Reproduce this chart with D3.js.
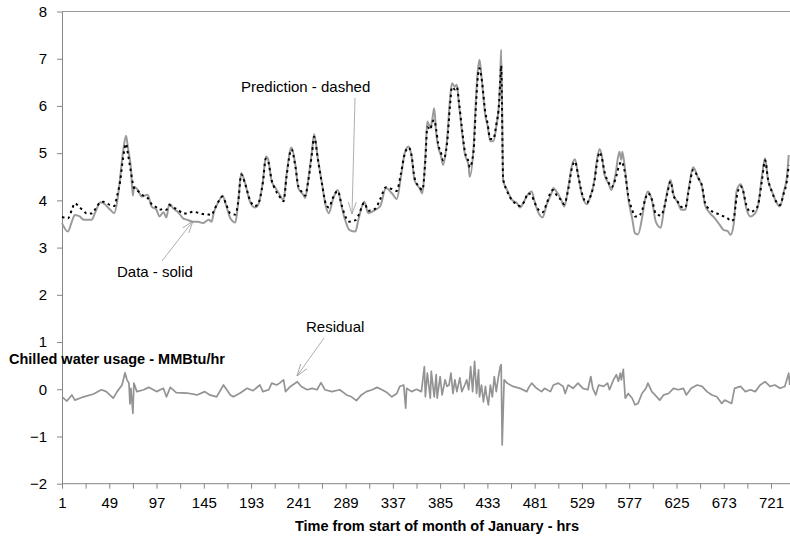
<!DOCTYPE html>
<html>
<head>
<meta charset="utf-8">
<script src="https://cdn.jsdelivr.net/npm/d3@7"></script>
<style>
  body { margin: 0; background: #fff; }
  svg { display: block; font-family: Arial, "Liberation Sans", sans-serif; }
  .axis path, .axis line { stroke: #868686; }
  .axis text { fill: #000; font-size: 15px; font-family: Arial, "Liberation Sans", sans-serif; }
</style>
</head>
<body>
<svg id="chart" width="790" height="537"></svg>
<script>
const hours = [
    1, 7, 11, 14, 19, 23, 26, 31, 35, 40,
    43, 50, 54, 57, 60, 63, 66, 68, 71, 73,
    74, 78, 82, 88, 92, 97, 100, 104, 107, 110,
    114, 119, 124, 128, 134, 139, 144, 150, 153, 155,
    160, 164, 168, 172, 177, 180, 183, 187, 192, 197,
    200, 205, 208, 210, 214, 217, 222, 226, 229, 234,
    238, 241, 246, 248, 251, 255, 257, 261, 265, 269,
    272, 276, 281, 285, 288, 293, 299, 302, 308, 312,
    319, 324, 330, 336, 341, 345, 349, 353, 356, 359,
    364, 367, 370, 372, 375, 377, 379, 381, 383, 386,
    388, 392, 395, 397, 400, 402, 404, 407, 410, 414,
    415, 419, 421, 423, 425, 427, 431, 433, 436, 439,
    442, 445, 446, 447, 449, 453, 458, 463, 466, 471,
    474, 478, 481, 485, 489, 493, 498, 500, 503, 508,
    511, 515, 519, 522, 525, 529, 534, 537, 542, 544,
    547, 549, 552, 556, 559, 563, 567, 569, 570, 573,
    576, 580, 583, 586, 590, 593, 596, 600, 604, 609,
    612, 616, 619, 622, 626, 630, 634, 637, 642, 647,
    651, 654, 659, 664, 669, 673, 677, 680, 683, 686,
    690, 692, 696, 700, 705, 708, 712, 715, 718, 722,
    727, 730, 734, 737, 739
]

// measured chilled water usage (solid)
const dataValues = [
    3.52, 3.34, 3.55, 3.69, 3.66, 3.59, 3.59, 3.59, 3.76, 3.96,
    3.94, 3.80, 3.73, 3.97, 4.47, 5.03, 5.37, 5.11, 4.68, 4.10,
    4.29, 4.22, 4.08, 4.12, 3.87, 3.80, 3.66, 3.75, 3.64, 3.93,
    3.83, 3.75, 3.62, 3.59, 3.55, 3.55, 3.52, 3.59, 3.55, 3.73,
    3.97, 4.10, 3.87, 3.62, 3.53, 3.97, 4.58, 4.36, 3.97, 3.85,
    3.90, 4.40, 4.93, 4.89, 4.40, 4.29, 4.12, 4.01, 4.54, 5.12,
    4.75, 4.26, 4.12, 4.05, 4.43, 5.07, 5.40, 4.86, 4.36, 3.87,
    3.73, 4.01, 4.22, 3.87, 3.62, 3.37, 3.34, 3.59, 3.97, 3.73,
    3.80, 3.87, 4.26, 4.15, 4.03, 4.47, 5.00, 5.14, 4.93, 4.43,
    4.26, 4.15, 4.93, 5.67, 5.53, 5.71, 5.95, 5.42, 5.14, 4.93,
    4.75, 5.28, 6.13, 6.48, 6.41, 6.45, 6.06, 5.49, 5.00, 4.72,
    4.50, 5.14, 5.99, 6.69, 6.98, 6.62, 5.78, 5.60, 5.25, 5.25,
    5.56, 6.13, 6.59, 7.19, 4.43, 4.22, 4.01, 3.94, 3.85, 4.01,
    4.12, 4.19, 3.97, 3.73, 3.64, 3.90, 4.15, 4.26, 4.19, 4.01,
    3.87, 4.26, 4.75, 4.87, 4.54, 4.12, 3.92, 4.05, 4.47, 4.82,
    5.09, 4.96, 4.54, 4.36, 4.22, 4.54, 5.03, 4.86, 5.03, 4.61,
    4.05, 3.62, 3.30, 3.28, 3.62, 4.01, 4.19, 4.01, 3.55, 3.42,
    3.76, 4.22, 4.43, 4.12, 3.97, 3.80, 3.80, 4.19, 4.70, 4.47,
    4.29, 3.90, 3.73, 3.62, 3.48, 3.37, 3.35, 3.27, 3.48, 4.19,
    4.34, 4.26, 3.83, 3.66, 3.73, 3.90, 4.54, 4.89, 4.43, 4.19,
    3.94, 3.87, 4.19, 4.47, 4.96
]

// model prediction (dashed)
const predValues = [
    3.65, 3.62, 3.80, 3.94, 3.85, 3.78, 3.72, 3.72, 3.82, 3.96,
    3.97, 3.90, 3.88, 4.10, 4.40, 4.90, 5.20, 4.98, 4.60, 4.35,
    4.27, 4.20, 4.12, 4.05, 3.92, 3.85, 3.80, 3.82, 3.80, 3.90,
    3.85, 3.80, 3.72, 3.72, 3.76, 3.74, 3.71, 3.70, 3.69, 3.77,
    3.98, 4.08, 3.90, 3.72, 3.70, 3.98, 4.55, 4.35, 4.00, 3.88,
    3.92, 4.38, 4.88, 4.85, 4.42, 4.25, 4.08, 3.98, 4.50, 5.08,
    4.72, 4.30, 4.15, 4.10, 4.40, 5.02, 5.35, 4.85, 4.35, 3.92,
    3.85, 4.05, 4.20, 3.90, 3.70, 3.55, 3.58, 3.68, 3.95, 3.78,
    3.82, 4.02, 4.28, 4.24, 4.20, 4.55, 4.98, 5.12, 4.95, 4.48,
    4.28, 4.22, 4.85, 5.55, 5.50, 5.65, 5.70, 5.50, 5.20, 5.00,
    4.85, 5.20, 6.00, 6.40, 6.35, 6.40, 6.10, 5.55, 5.05, 4.80,
    4.70, 5.05, 5.85, 6.55, 6.80, 6.60, 5.85, 5.65, 5.30, 5.30,
    5.60, 6.10, 6.50, 6.85, 4.45, 4.20, 4.00, 3.92, 3.88, 4.00,
    4.15, 4.10, 3.95, 3.80, 3.75, 3.92, 4.20, 4.22, 4.12, 4.00,
    3.92, 4.22, 4.70, 4.82, 4.55, 4.15, 3.95, 4.05, 4.45, 4.75,
    5.02, 4.92, 4.60, 4.38, 4.28, 4.45, 4.75, 4.82, 4.80, 4.55,
    4.10, 3.80, 3.66, 3.66, 3.78, 4.00, 4.15, 4.02, 3.72, 3.68,
    3.80, 4.18, 4.40, 4.10, 3.98, 3.86, 3.85, 4.15, 4.65, 4.48,
    4.30, 3.95, 3.80, 3.74, 3.70, 3.66, 3.62, 3.56, 3.60, 4.05,
    4.30, 4.25, 3.90, 3.76, 3.80, 3.92, 4.45, 4.85, 4.45, 4.18,
    3.95, 3.90, 4.15, 4.40, 4.75
]

// residual, [hour, value]
const residual = [
    [1, -0.16], [6, -0.25], [11, -0.12], [14, -0.23], [23, -0.16], [33, -0.10], [41, -0.01], [46, -0.05],
    [53, -0.19], [57, -0.05], [62, 0.09], [65, 0.35], [67, 0.20], [69, 0.13], [70, -0.31], [71, 0.02],
    [73, -0.51], [74, 0.13], [77, -0.05], [84, -0.01], [89, 0.04], [97, -0.05], [104, 0.02], [107, -0.16],
    [111, 0.04], [117, -0.07], [128, -0.08], [138, -0.12], [146, -0.05], [151, -0.12], [158, -0.16], [165, 0.09],
    [172, -0.12], [175, -0.16], [182, -0.08], [189, 0.02], [195, -0.03], [202, 0.09], [205, -0.05], [211, -0.01],
    [214, 0.13], [219, 0.09], [222, 0.13], [226, 0.20], [228, -0.05], [233, 0.06], [240, 0.16], [244, 0.06],
    [250, -0.01], [255, 0.02], [260, -0.01], [264, 0.14], [268, -0.01], [275, -0.05], [283, -0.01], [290, -0.12],
    [295, -0.16], [300, -0.24], [305, -0.12], [310, -0.05], [316, -0.01], [321, 0.04], [326, -0.01], [331, -0.07],
    [336, -0.16], [341, -0.09], [344, 0.06], [348, 0.09], [350, -0.40], [351, 0.02], [356, -0.05], [361, 0.00],
    [366, -0.05], [369, 0.48], [370, -0.16], [372, 0.34], [375, -0.19], [376, 0.38], [379, -0.16], [381, 0.31],
    [382, -0.19], [385, 0.27], [387, -0.12], [390, 0.20], [392, 0.06], [394, 0.09], [396, 0.34], [398, -0.09],
    [400, 0.20], [402, -0.05], [405, 0.24], [407, -0.05], [410, 0.09], [412, 0.20], [414, -0.01], [416, 0.48],
    [418, -0.05], [420, 0.59], [422, -0.09], [424, 0.41], [425, -0.16], [427, 0.09], [429, -0.27], [431, 0.06],
    [432, -0.12], [434, -0.33], [436, 0.09], [438, -0.16], [440, 0.27], [442, -0.05], [444, 0.24], [446, 0.48],
    [447, 0.52], [448, -1.18], [450, 0.20], [453, 0.13], [459, 0.06], [466, 0.02], [473, -0.05], [475, 0.04],
    [478, 0.13], [483, 0.02], [488, -0.05], [491, 0.02], [497, -0.05], [500, 0.09], [505, 0.13], [510, 0.06],
    [512, -0.09], [515, 0.09], [520, 0.02], [525, 0.13], [530, 0.02], [535, -0.01], [538, 0.27], [540, 0.02],
    [543, -0.12], [546, 0.09], [551, 0.06], [555, 0.13], [557, -0.01], [561, 0.20], [564, 0.31], [566, 0.17],
    [568, 0.34], [569, 0.20], [571, 0.42], [573, -0.19], [576, -0.09], [580, -0.19], [583, -0.33], [586, -0.30],
    [590, -0.09], [594, 0.02], [596, 0.13], [600, -0.05], [605, -0.16], [608, -0.23], [612, -0.12], [617, -0.09],
    [622, 0.02], [627, -0.01], [632, 0.02], [635, -0.12], [640, 0.02], [646, 0.09], [651, 0.06], [656, -0.05],
    [661, -0.12], [666, -0.16], [671, -0.30], [674, -0.23], [678, -0.27], [681, -0.30], [684, 0.02], [690, 0.06],
    [695, -0.05], [700, -0.01], [705, -0.05], [710, 0.09], [715, 0.16], [720, 0.06], [725, 0.09], [730, 0.02],
    [735, 0.06], [739, 0.34], [740, 0.09]
]

const yTicks = [-2, -1, 0, 1, 2, 3, 4, 5, 6, 7, 8]
const xTickLabels = [1, 49, 97, 145, 193, 241, 289, 337, 385, 433, 481, 529, 577, 625, 673, 721]
const xMinorTicks = d3.range(1, 746, 24)

const svg = d3.select("#chart")

let x = d3.scaleLinear().domain([1, 721]).range([62, 771])
let y = d3.scaleLinear().domain([-2, 8]).range([483.7, 11.5])

// plot frame (top edge; right edge runs off the picture)
svg.append("line")
    .attr("x1", 62).attr("x2", 790)
    .attr("y1", y(8)).attr("y2", y(8))
    .attr("stroke", "#9a9a9a")
    .attr("stroke-width", 1)

let yAxis = svg.append("g")
    .attr("class", "axis")
    .attr("transform", "translate(62,0)")
    .call(d3.axisLeft(y).tickValues(yTicks).tickSize(5).tickSizeOuter(0).tickPadding(10))

let xAxis = svg.append("g")
    .attr("class", "axis")
    .attr("transform", "translate(0," + y(-2) + ")")
    .call(
        d3.axisBottom(x)
            .tickValues(xMinorTicks)
            .tickSize(5)
            .tickSizeOuter(0)
            .tickPadding(9)
            .tickFormat((d) => (xTickLabels.includes(d) ? d : ""))
    )
xAxis.select(".domain").attr("d", "M62,0H790")

let line = d3.line()
    .x((d) => x(d[0]))
    .y((d) => y(d[1]))

let smoothLine = d3.line()
    .curve(d3.curveMonotoneX)
    .x((d) => x(d[0]))
    .y((d) => y(d[1]))

let dataPts = d3.zip(hours, dataValues)
let predPts = d3.zip(hours, predValues)

svg.append("path")
    .datum(residual)
    .attr("d", line)
    .attr("fill", "none")
    .attr("stroke", "#939393")
    .attr("stroke-width", 1.7)
    .attr("stroke-linejoin", "round")

svg.append("path")
    .datum(dataPts)
    .attr("d", smoothLine)
    .attr("fill", "none")
    .attr("stroke", "#9b9b9b")
    .attr("stroke-width", 2)
    .attr("stroke-linejoin", "round")

svg.append("path")
    .datum(predPts)
    .attr("d", smoothLine)
    .attr("fill", "none")
    .attr("stroke", "#000")
    .attr("stroke-width", 2)
    .attr("stroke-dasharray", "2.5,3.5")

// annotations with thin arrows
let defs = svg.append("defs")
defs.append("marker")
    .attr("id", "arrow")
    .attr("viewBox", "0 0 12 10")
    .attr("refX", 12).attr("refY", 5)
    .attr("markerWidth", 12).attr("markerHeight", 10)
    .attr("markerUnits", "userSpaceOnUse")
    .attr("orient", "auto")
    .append("path")
    .attr("d", "M0,1 L12,5 L0,9")
    .attr("fill", "none")
    .attr("stroke", "#9a9a9a")
    .attr("stroke-width", 0.8)

let notes = [
    { text: "Prediction - dashed", tx: 241, ty: 92, x1: 355, y1: 98, x2: 352, y2: 214 },
    { text: "Data - solid", tx: 117, ty: 277, x1: 162, y1: 261, x2: 193, y2: 221 },
    { text: "Residual", tx: 306, ty: 332, x1: 324, y1: 338, x2: 297, y2: 376 },
]

svg.selectAll("line.leader")
    .data(notes)
    .enter()
    .append("line")
    .attr("class", "leader")
    .attr("x1", (d) => d.x1).attr("y1", (d) => d.y1)
    .attr("x2", (d) => d.x2).attr("y2", (d) => d.y2)
    .attr("stroke", "#9a9a9a")
    .attr("stroke-width", 0.8)
    .attr("marker-end", "url(#arrow)")

svg.selectAll("text.note")
    .data(notes)
    .enter()
    .append("text")
    .attr("class", "note")
    .attr("x", (d) => d.tx)
    .attr("y", (d) => d.ty)
    .attr("font-size", 15)
    .attr("fill", "#000")
    .text((d) => d.text)

// axis titles
svg.append("text")
    .attr("x", 9)
    .attr("y", 364)
    .attr("font-size", 14.5)
    .attr("font-weight", "bold")
    .text("Chilled water usage - MMBtu/hr")

svg.append("text")
    .attr("x", 437)
    .attr("y", 531)
    .attr("text-anchor", "middle")
    .attr("font-size", 14.5)
    .attr("font-weight", "bold")
    .text("Time from start of month of January - hrs")
</script>
</body>
</html>
